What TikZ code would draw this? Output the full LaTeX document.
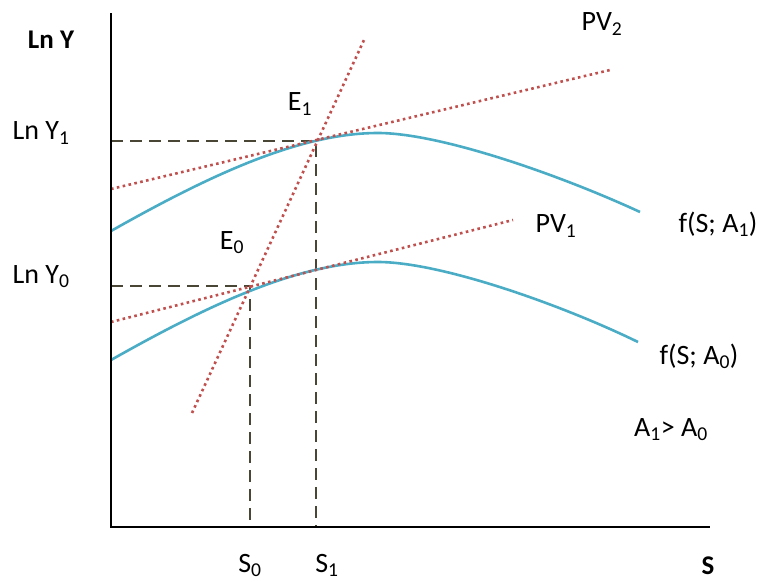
\documentclass[tikz,border=0pt]{standalone}
\usepackage{fontspec}
\setmainfont{Carlito}
\begin{document}
\begin{tikzpicture}[x=1pt,y=-1pt,
  axis/.style={line width=2.6pt,black},
  guide/.style={line width=1.8pt,color=dashc,dash pattern=on 12pt off 7pt},
  pv/.style={line width=2.6pt,color=pvred,dash pattern=on 2.6pt off 3.4pt},
  fcurve/.style={line width=2.6pt,color=fblue},
  lbl/.style={inner sep=0pt,font=\fontsize{28}{32}\selectfont},
  blbl/.style={inner sep=0pt,font=\fontsize{27}{32}\selectfont\bfseries}]
\definecolor{dashc}{HTML}{4A4636}
\definecolor{pvred}{HTML}{C0504D}
\definecolor{fblue}{HTML}{4BACC6}
\useasboundingbox (0,0) rectangle (759,581);
% key points
\coordinate (O) at (111,527);
\coordinate (ytop) at (111,13);
\coordinate (xend) at (710,527);
\coordinate (E1) at (316,141);
\coordinate (E0) at (250,286);
\coordinate (Y1) at (111,141);
\coordinate (Y0) at (111,286);
\coordinate (S1) at (316,527);
\coordinate (S0) at (250,520);
% guides
\draw[guide] (Y1) -- (E1) -- (S1);
\draw[guide] (Y0) -- (E0) -- (S0);
% curves
\draw[fcurve] (111,231) .. controls (210,175) and (300,133) .. (378,133)
                        .. controls (440,133) and (560,175) .. (640,212);
\draw[fcurve] (111,360) .. controls (210,304) and (300,262) .. (378,262)
                        .. controls (440,262) and (560,304) .. (638,342);
% PV lines
\coordinate (pv2a) at (111,189);
\coordinate (pv2b) at (610,70);
\coordinate (pv1a) at (111,322);
\coordinate (pv1b) at (513,220);
\coordinate (sta) at (192,413);
\coordinate (stb) at (364,40);
\draw[pv] (pv2a) -- (pv2b);
\draw[pv] (pv1a) -- (pv1b);
\draw[pv] (sta) -- (stb);
% axes
\draw[axis] (ytop) -- (O) -- (xend);
% labels
\node[blbl] (lny) at (51,40) {Ln Y};
\node[lbl] (lny1) at (41,133) {Ln Y\textsubscript{1}};
\node[lbl] (lny0) at (41,277) {Ln Y\textsubscript{0}};
\node[lbl] (e1) at (300,104) {E\textsubscript{1}};
\node[lbl] (e0) at (232,243) {E\textsubscript{0}};
\node[lbl] (pv2) at (602,24) {PV\textsubscript{2}};
\node[lbl] (pv1) at (556,226) {PV\textsubscript{1}};
\node[lbl] (fa1) at (718,224) {f(S; A\textsubscript{1})};
\node[lbl] (fa0) at (699,356) {f(S; A\textsubscript{0})};
\node[lbl] (ineq) at (671,430) {A\textsubscript{1}> A\textsubscript{0}};
\node[blbl,anchor=base] (sl) at (708,574) {S};
\node[lbl,anchor=base] (s0) at (250,572) {S\textsubscript{0}};
\node[lbl,anchor=base] (s1) at (327,572) {S\textsubscript{1}};
\end{tikzpicture}
\end{document}
